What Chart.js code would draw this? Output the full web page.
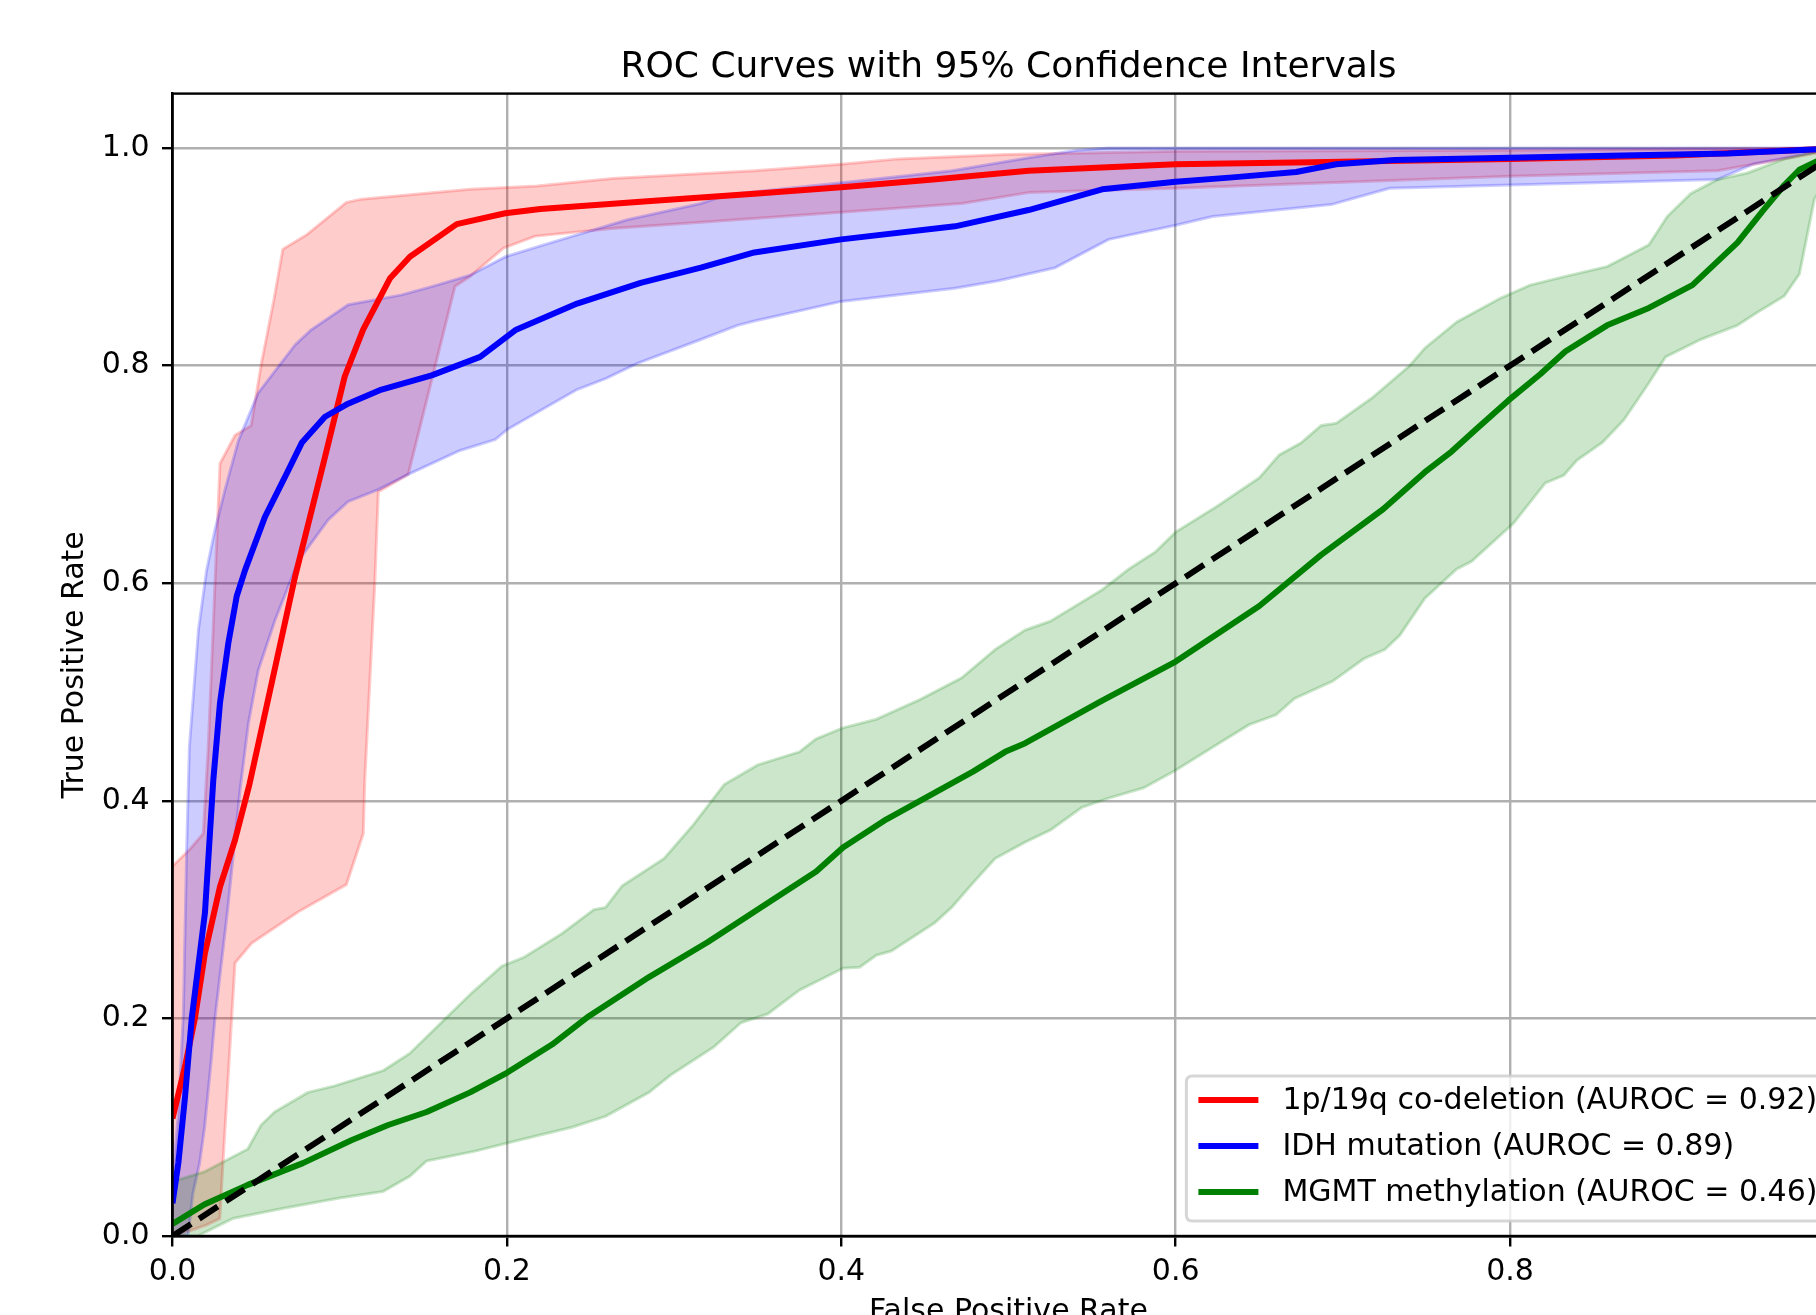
<!DOCTYPE html>
<html>
<head>
<meta charset="utf-8">
<script src="https://cdn.jsdelivr.net/npm/chart.js@4.4.1/dist/chart.umd.min.js"></script>
<style>
html,body{margin:0;padding:0;overflow:hidden;background:#fff;width:1816px;height:1315px;}
#wrap{position:absolute;left:0;top:0;width:1900px;height:1400px;}
</style>
</head>
<body>
<div id="wrap"><canvas id="c" width="1900" height="1400"></canvas></div>
<script>
// ---------- data ----------
const chartTitle = 'ROC Curves with 95% Confidence Intervals';
const xTitle = 'False Positive Rate';
const yTitle = 'True Positive Rate';
const xTickValues = [0, 0.2, 0.4, 0.6, 0.8, 1.0];
const yTickValues = [0, 0.2, 0.4, 0.6, 0.8, 1.0];
const seriesLabels = [
  '1p/19q co-deletion (AUROC = 0.92)',
  'IDH mutation (AUROC = 0.89)',
  'MGMT methylation (AUROC = 0.46)'
];

// 1p/19q co-deletion
const codelMean = [[0,0.108],[0.0075,0.156],[0.0134,0.2],[0.0194,0.26],[0.0284,0.321],[0.0374,0.364],[0.046,0.415],[0.06,0.513],[0.0733,0.606],[0.0912,0.716],[0.103,0.79],[0.114,0.833],[0.13,0.88],[0.142,0.9],[0.17,0.93],[0.199,0.94],[0.22,0.944],[0.284,0.951],[0.348,0.958],[0.4,0.964],[0.455,0.971],[0.512,0.979],[0.556,0.982],[0.6,0.985],[0.681,0.987],[0.8,0.99],[0.899,0.993],[1,1]];
const codelUpper = [[0,0.34],[0.0101,0.355],[0.0184,0.37],[0.0214,0.45],[0.0254,0.6],[0.0284,0.71],[0.0374,0.736],[0.047,0.745],[0.0533,0.803],[0.0606,0.86],[0.066,0.907],[0.08,0.92],[0.104,0.95],[0.113,0.953],[0.178,0.962],[0.218,0.965],[0.263,0.972],[0.348,0.979],[0.4,0.985],[0.434,0.99],[0.498,0.994],[0.6,0.997],[0.8,0.998],[1,1]];
const codelLower = [[0,0],[0.0053,0.002],[0.0202,0.01],[0.0283,0.016],[0.0303,0.07],[0.0374,0.251],[0.0473,0.269],[0.0753,0.298],[0.104,0.323],[0.1141,0.37],[0.115,0.419],[0.121,0.6],[0.1231,0.684],[0.141,0.7],[0.169,0.873],[0.178,0.882],[0.198,0.908],[0.217,0.919],[0.263,0.926],[0.327,0.933],[0.4,0.941],[0.472,0.949],[0.512,0.959],[0.6,0.963],[0.8,0.974],[0.924,0.979],[0.982,0.995],[1,1]];

// IDH mutation
const idhMean = [[0,0.03],[0.0035,0.067],[0.0075,0.128],[0.0115,0.2],[0.0194,0.297],[0.0244,0.419],[0.0284,0.49],[0.0334,0.545],[0.0384,0.588],[0.0434,0.612],[0.0553,0.661],[0.0693,0.704],[0.0773,0.729],[0.0912,0.753],[0.105,0.765],[0.125,0.778],[0.155,0.791],[0.184,0.808],[0.2055,0.833],[0.242,0.857],[0.28,0.876],[0.316,0.89],[0.348,0.904],[0.4,0.916],[0.468,0.928],[0.512,0.943],[0.556,0.962],[0.6,0.969],[0.634,0.973],[0.672,0.978],[0.696,0.985],[0.731,0.989],[0.8,0.991],[0.867,0.993],[0.93,0.995],[1,1]];
const idhUpper = [[0,0.05],[0.0035,0.113],[0.0065,0.205],[0.0085,0.358],[0.0101,0.45],[0.0155,0.557],[0.0204,0.612],[0.0254,0.649],[0.0314,0.686],[0.0394,0.731],[0.0513,0.775],[0.0633,0.799],[0.0733,0.819],[0.083,0.833],[0.105,0.856],[0.137,0.865],[0.156,0.873],[0.178,0.883],[0.199,0.9],[0.22,0.91],[0.272,0.934],[0.316,0.949],[0.331,0.957],[0.4,0.968],[0.466,0.979],[0.512,0.991],[0.541,0.998],[0.56,1],[1,1]];
const idhLower = [[0,0],[0.0093,0],[0.0122,0.039],[0.0162,0.067],[0.0192,0.1],[0.0232,0.162],[0.0254,0.2],[0.033,0.3],[0.0404,0.41],[0.0454,0.471],[0.0513,0.52],[0.0613,0.566],[0.0753,0.6205],[0.093,0.658],[0.105,0.675],[0.123,0.686],[0.141,0.7],[0.172,0.722],[0.193,0.732],[0.2,0.741],[0.242,0.778],[0.259,0.788],[0.278,0.802],[0.316,0.824],[0.338,0.837],[0.348,0.841],[0.4,0.859],[0.468,0.871],[0.494,0.878],[0.528,0.89],[0.56,0.916],[0.6,0.929],[0.622,0.937],[0.693,0.948],[0.728,0.963],[0.8,0.966],[0.924,0.971],[0.945,0.985],[0.982,0.996],[1,1]];

// MGMT methylation
const mgmtMean = [[0,0.011],[0.019,0.029],[0.045,0.047],[0.078,0.067],[0.107,0.088],[0.129,0.102],[0.152,0.114],[0.178,0.132],[0.2,0.15],[0.227,0.176],[0.249,0.202],[0.285,0.238],[0.32,0.27],[0.356,0.306],[0.385,0.335],[0.401,0.357],[0.427,0.383],[0.453,0.405],[0.479,0.427],[0.498,0.445],[0.51,0.453],[0.556,0.492],[0.6,0.528],[0.65,0.579],[0.687,0.626],[0.724,0.668],[0.749,0.702],[0.765,0.721],[0.78,0.742],[0.799,0.768],[0.818,0.792],[0.833,0.813],[0.858,0.837],[0.883,0.853],[0.909,0.874],[0.936,0.913],[0.951,0.942],[0.964,0.966],[0.973,0.98],[1,1]];
const mgmtUpper = [[0,0.05],[0.019,0.059],[0.045,0.08],[0.053,0.102],[0.061,0.114],[0.081,0.132],[0.097,0.138],[0.126,0.152],[0.142,0.168],[0.162,0.198],[0.178,0.222],[0.197,0.248],[0.21,0.256],[0.233,0.278],[0.252,0.3],[0.259,0.302],[0.269,0.322],[0.294,0.347],[0.311,0.377],[0.33,0.415],[0.35,0.433],[0.375,0.445],[0.385,0.457],[0.401,0.467],[0.421,0.475],[0.447,0.493],[0.472,0.513],[0.492,0.539],[0.51,0.557],[0.525,0.565],[0.556,0.594],[0.572,0.613],[0.588,0.629],[0.6,0.647],[0.625,0.671],[0.65,0.697],[0.662,0.718],[0.675,0.729],[0.687,0.745],[0.696,0.747],[0.718,0.771],[0.74,0.8],[0.749,0.816],[0.768,0.84],[0.793,0.861],[0.812,0.874],[0.833,0.882],[0.858,0.891],[0.883,0.911],[0.894,0.937],[0.908,0.958],[0.924,0.971],[0.942,0.977],[0.964,0.99],[0.982,0.996],[1,1]];
const mgmtLower = [[0,0],[0.015,0],[0.036,0.016],[0.065,0.025],[0.1,0.035],[0.126,0.041],[0.142,0.055],[0.152,0.069],[0.181,0.078],[0.207,0.088],[0.239,0.1],[0.259,0.11],[0.285,0.132],[0.298,0.148],[0.324,0.174],[0.34,0.196],[0.356,0.204],[0.375,0.226],[0.388,0.236],[0.401,0.246],[0.411,0.247],[0.421,0.258],[0.43,0.262],[0.456,0.288],[0.466,0.302],[0.479,0.325],[0.492,0.347],[0.51,0.362],[0.525,0.373],[0.544,0.394],[0.559,0.402],[0.581,0.412],[0.6,0.428],[0.625,0.452],[0.644,0.47],[0.66,0.479],[0.671,0.494],[0.694,0.51],[0.713,0.531],[0.725,0.539],[0.734,0.552],[0.749,0.586],[0.768,0.613],[0.777,0.62],[0.802,0.655],[0.821,0.692],[0.832,0.699],[0.84,0.713],[0.855,0.729],[0.868,0.75],[0.883,0.784],[0.893,0.808],[0.914,0.824],[0.936,0.837],[0.948,0.849],[0.964,0.864],[0.973,0.884],[0.982,0.953],[1,1]];

// chance diagonal
const chanceLine = [[0,0],[1,1]];

// ---------- helpers ----------
const pts = a => a.map(([x, y]) => ({x, y}));
const band = (up, lo) => pts(up.concat(lo.slice().reverse()));
const FONT = "'DejaVu Sans', 'Liberation Sans', sans-serif";

const PLOT = {left: 172.5, right: 1844.5, top: 93.6, bottom: 1236};
const W = 1900, H = 1400;

const frameAndLegend = {
  id: 'frameAndLegend',
  afterDatasetsDraw(chart) {
    const {ctx, chartArea: a} = chart;
    ctx.save();
    ctx.strokeStyle = '#000';
    ctx.lineWidth = 2.4;
    ctx.lineCap = 'square';
    ctx.strokeRect(a.left, a.top, a.right - a.left, a.bottom - a.top);
    ctx.restore();
  },
  afterDraw(chart) {
    const {ctx, chartArea: a} = chart;
    const fs = 30;
    const pad = 0.4 * fs, handle = 2 * fs, gap = 0.8 * fs, rowH = 46, axPad = 0.5 * fs;
    ctx.save();
    ctx.font = fs + 'px ' + FONT;
    const entries = chart.data.datasets.filter(d => d.showInLegend);
    let tw = 0;
    entries.forEach(d => { tw = Math.max(tw, ctx.measureText(d.label).width); });
    const w = pad + handle + gap + tw + pad;
    const h = 145;
    const right = a.right - axPad, bottom = a.bottom - axPad;
    const left = right - w, top = bottom - h;
    const r = 6;
    ctx.beginPath();
    ctx.moveTo(left + r, top);
    ctx.lineTo(right - r, top); ctx.quadraticCurveTo(right, top, right, top + r);
    ctx.lineTo(right, bottom - r); ctx.quadraticCurveTo(right, bottom, right - r, bottom);
    ctx.lineTo(left + r, bottom); ctx.quadraticCurveTo(left, bottom, left, bottom - r);
    ctx.lineTo(left, top + r); ctx.quadraticCurveTo(left, top, left + r, top);
    ctx.closePath();
    ctx.fillStyle = 'rgba(255,255,255,0.8)';
    ctx.fill();
    ctx.strokeStyle = 'rgba(204,204,204,0.8)';
    ctx.lineWidth = 3;
    ctx.stroke();
    entries.forEach((d, i) => {
      const cy = top + 24 + rowH * i;
      ctx.strokeStyle = d.borderColor;
      ctx.lineWidth = 6;
      ctx.lineCap = 'butt';
      ctx.beginPath();
      ctx.moveTo(left + pad, cy);
      ctx.lineTo(left + pad + handle, cy);
      ctx.stroke();
      ctx.fillStyle = '#000';
      ctx.textBaseline = 'middle';
      ctx.textAlign = 'left';
      ctx.fillText(d.label, left + pad + handle + gap, cy + 1);
    });
    ctx.restore();
  }
};

const fillDs = (data, color, order) => ({
  data: band(data[0], data[1]),
  showLine: true, pointRadius: 0, borderWidth: 3,
  borderColor: color, backgroundColor: color, fill: 'shape', order,
  borderJoinStyle: 'round'
});
const lineDs = (label, data, color, order) => ({
  label, data: pts(data), showLine: true, showInLegend: true, pointRadius: 0,
  borderWidth: 6, borderColor: color, backgroundColor: color, fill: false, order,
  borderJoinStyle: 'round', borderCapStyle: 'butt'
});

const scaleCommon = (ticks, title, tickPad, titlePad) => ({
  type: 'linear',
  afterBuildTicks: s => { s.ticks = ticks.map(v => ({value: v})); },
  grid: {color: '#b0b0b0', lineWidth: 2.4, drawTicks: true, tickLength: 10.5, tickColor: '#000', tickWidth: 2.4},
  border: {display: true, color: '#000', width: 2.4},
  ticks: {color: '#000', font: {family: FONT, size: 30}, padding: tickPad, maxRotation: 0, autoSkip: false,
          callback: v => Number(v).toFixed(1)},
  title: {display: true, text: title, color: '#000', font: {family: FONT, size: 30}, padding: titlePad}
});

const xScale = Object.assign(scaleCommon(xTickValues, xTitle, 7.5, {top: 0, bottom: 70}), {
  min: 0, max: 1, position: 'bottom',
  afterFit: s => { s.height = H - PLOT.bottom; }
});
const yScale = Object.assign(scaleCommon(yTickValues, yTitle, 12.5, {top: 57, bottom: 0}), {
  min: 0, max: 1.05, position: 'left',
  afterFit: s => { s.width = PLOT.left; }
});

new Chart(document.getElementById('c'), {
  type: 'scatter',
  data: {
    datasets: [
      lineDs(seriesLabels[0], codelMean, '#ff0000', 3),
      lineDs(seriesLabels[1], idhMean, '#0000ff', 2),
      lineDs(seriesLabels[2], mgmtMean, '#008000', 1),
      {data: pts(chanceLine), showLine: true, pointRadius: 0, borderWidth: 6, borderColor: '#000',
       borderDash: [22.2, 9.6], fill: false, order: 0},
      fillDs([codelUpper, codelLower], 'rgba(255,0,0,0.2)', 6),
      fillDs([idhUpper, idhLower], 'rgba(0,0,255,0.2)', 5),
      fillDs([mgmtUpper, mgmtLower], 'rgba(0,128,0,0.2)', 4)
    ]
  },
  options: {
    responsive: false,
    animation: false,
    devicePixelRatio: 1,
    events: [],
    layout: {padding: {left: 0, right: W - PLOT.right, top: 0, bottom: 0}},
    scales: {x: xScale, y: yScale},
    plugins: {
      legend: {display: false},
      tooltip: {enabled: false},
      title: {display: true, text: chartTitle, fullSize: false, color: '#000',
              font: {family: FONT, size: 36, weight: 'normal'}, padding: {top: 46, bottom: 4.4}}
    }
  },
  plugins: [frameAndLegend]
});
</script>
</body>
</html>
